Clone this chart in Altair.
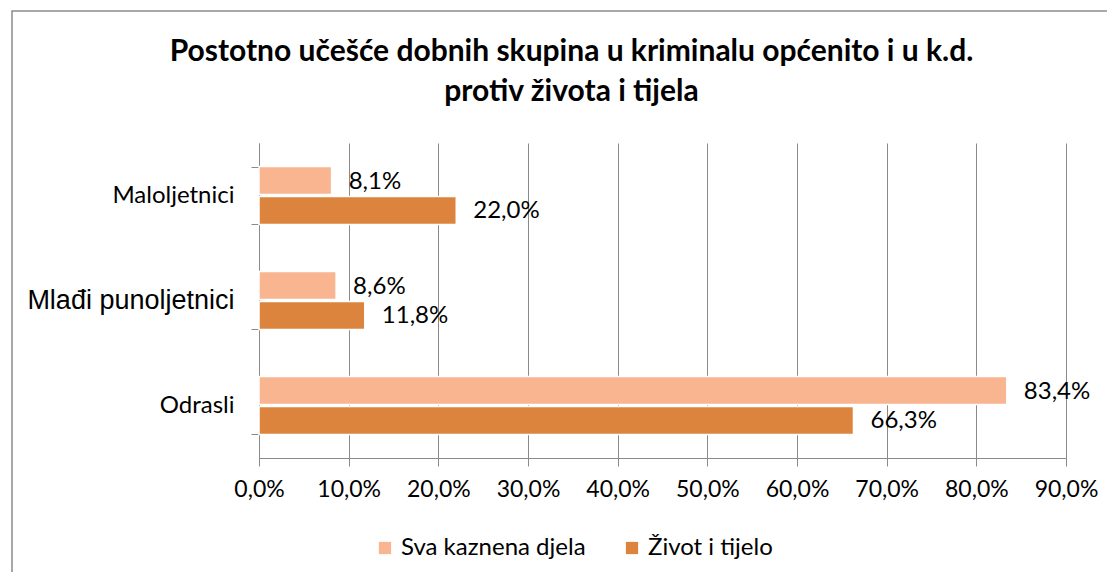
import altair as alt
import pandas as pd

categories = ["Maloljetnici", "Mlađi punoljetnici", "Odrasli"]
series = ["Sva kaznena djela", "Život i tijelo"]
sva = [8.1, 8.6, 83.4]
zivot = [22.0, 11.8, 66.3]
x_ticks = [0, 10, 20, 30, 40, 50, 60, 70, 80, 90]
colors = ["#F9B590", "#DC843E"]

rows = []
for c, a, b in zip(categories, sva, zivot):
    rows.append({"cat": c, "ser": series[0], "val": a})
    rows.append({"cat": c, "ser": series[1], "val": b})
df = pd.DataFrame(rows)
df["lab"] = df["val"].map(lambda v: f"{v:.1f}".replace(".", ",") + "%")

FONT = "Lato"
GRID = "#8a8a8a"

y_enc = alt.Y("cat:N", sort=categories, title=None,
              scale=alt.Scale(paddingInner=0.448, paddingOuter=0.224),
              axis=alt.Axis(tickBand="extent", domainColor=GRID, tickColor=GRID,
                            tickSize=8, labelPadding=17, labelColor="#000000",
                            labelLimit=400,
                            labelFont={"condition": {"test": "datum.value == 'Mlađi punoljetnici'", "value": "Liberation Sans"}, "value": FONT},
                            labelFontSize={"condition": {"test": "datum.value == 'Mlađi punoljetnici'", "value": 27}, "value": 24},
                            grid=False))
yoff = alt.YOffset("ser:N", sort=series, scale=alt.Scale(paddingInner=0.0667, paddingOuter=0))
x_enc = alt.X("val:Q", title=None,
              scale=alt.Scale(domain=[0, 90], nice=False),
              axis=alt.Axis(values=x_ticks, grid=True, gridColor=GRID, gridOpacity=1,
                            domainColor=GRID, tickColor=GRID, tickSize=8, labelPadding=12,
                            labelOverlap=False, labelFlush=False,
                            labelExpr="replace(format(datum.value, '.1f'), '.', ',') + '%'",
                            labelFont=FONT, labelFontSize=23, labelColor="#000000"))

frame = alt.Chart(alt.Data(values=[{}])).mark_rect(
    fill=None, stroke="#8c8c8c", strokeWidth=1.5
).encode(x=alt.value(-247), x2=alt.value(1300), y=alt.value(-132), y2=alt.value(700))

bars = alt.Chart(df).mark_bar(stroke="white", strokeWidth=1.5).encode(
    x=x_enc, y=y_enc, yOffset=yoff,
    color=alt.Color("ser:N", sort=series, title=None,
                    scale=alt.Scale(domain=series, range=colors),
                    legend=alt.Legend(orient="none", legendX=114, legendY=393,
                                      direction="horizontal", symbolType="square",
                                      symbolSize=150, symbolStrokeWidth=0,
                                      labelFont=FONT, labelFontSize=24, labelColor="#000000",
                                      labelLimit=400,
                                      columnPadding=34, symbolOffset=0, labelOffset=4))
)

labels = alt.Chart(df).mark_text(align="left", baseline="middle", dx=17, dy=1,
                                 font=FONT, fontSize=24, color="#000000").encode(
    x="val:Q", y=alt.Y("cat:N", sort=categories), yOffset=yoff, text="lab:N"
)

chart = alt.layer(frame, bars, labels).properties(
    width=807, height=315,
    autosize=alt.AutoSizeParams(type="none"),
    padding={"left": 251, "top": 135, "right": 41, "bottom": 114},
    title=alt.TitleParams(
        ["Postotno učešće dobnih skupina u kriminalu općenito i u k.d.", "protiv života i tijela"],
        font=FONT, fontSize=30, fontWeight="bold", color="#000000",
        anchor="middle", frame="group", dx=-91, lineHeight=40, offset=-97),
).configure_view(stroke=None)

chart.save("out.html", embed_options={"renderer": "svg", "actions": False})
